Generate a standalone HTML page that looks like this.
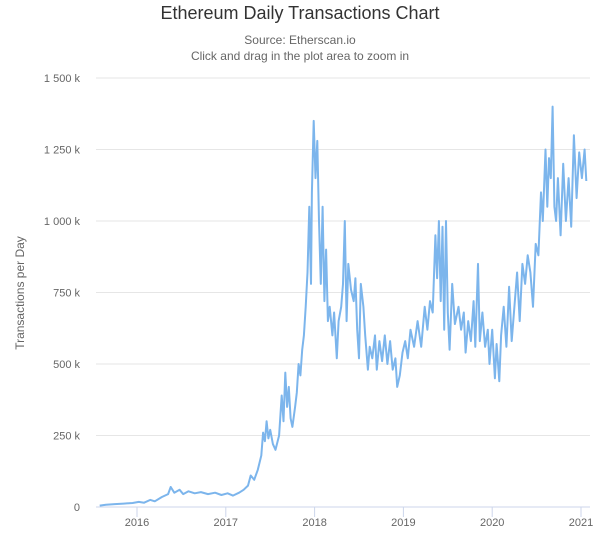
<!DOCTYPE html>
<html><head><meta charset="utf-8"><style>
html,body{margin:0;padding:0;background:#fff;}
svg{display:block;font-family:"Liberation Sans",sans-serif;}
</style></head><body>
<svg id="chart" width="600" height="533">
<text x="300" y="19" text-anchor="middle" font-size="18" fill="#333">Ethereum Daily Transactions Chart</text>
<text x="300" y="44" text-anchor="middle" font-size="12" fill="#666">Source: Etherscan.io</text>
<text x="300" y="60" text-anchor="middle" font-size="12" fill="#666">Click and drag in the plot area to zoom in</text>
<text transform="translate(24,293) rotate(-90)" text-anchor="middle" font-size="12" fill="#666">Transactions per Day</text>
<g id="grid"></g><g id="yticks"></g><g id="xticks"></g><g id="series"></g>
</svg>
<script>
const yTickValues=[0,250,500,750,1000,1250,1500];
const yTickLabels=["0","250 k","500 k","750 k","1 000 k","1 250 k","1 500 k"];
const xTickValues=[2016,2017,2018,2019,2020,2021];
const xTickLabels=["2016","2017","2018","2019","2020","2021"];
const dates=[2015.58,2015.65,2015.75,2015.85,2015.95,2016.02,2016.08,2016.15,2016.2,2016.28,2016.35,2016.38,2016.42,2016.48,2016.52,2016.58,2016.65,2016.72,2016.8,2016.88,2016.95,2017.02,2017.08,2017.15,2017.2,2017.25,2017.28,2017.32,2017.36,2017.4,2017.42,2017.44,2017.46,2017.48,2017.5,2017.53,2017.56,2017.6,2017.63,2017.65,2017.67,2017.69,2017.71,2017.73,2017.75,2017.78,2017.8,2017.82,2017.84,2017.86,2017.88,2017.9,2017.92,2017.94,2017.96,2017.97,2017.99,2018.01,2018.03,2018.05,2018.07,2018.09,2018.11,2018.13,2018.15,2018.17,2018.2,2018.22,2018.25,2018.27,2018.3,2018.32,2018.34,2018.36,2018.38,2018.41,2018.44,2018.46,2018.48,2018.5,2018.52,2018.55,2018.57,2018.6,2018.62,2018.65,2018.68,2018.7,2018.73,2018.76,2018.79,2018.82,2018.85,2018.88,2018.91,2018.93,2018.96,2018.99,2019.02,2019.05,2019.08,2019.12,2019.16,2019.2,2019.24,2019.27,2019.3,2019.33,2019.36,2019.38,2019.4,2019.42,2019.44,2019.46,2019.48,2019.5,2019.52,2019.55,2019.58,2019.62,2019.65,2019.68,2019.7,2019.73,2019.76,2019.79,2019.81,2019.84,2019.86,2019.89,2019.92,2019.95,2019.97,2020.0,2020.03,2020.05,2020.08,2020.1,2020.13,2020.16,2020.19,2020.22,2020.25,2020.28,2020.31,2020.34,2020.37,2020.4,2020.43,2020.46,2020.49,2020.52,2020.55,2020.57,2020.6,2020.62,2020.64,2020.66,2020.68,2020.7,2020.72,2020.74,2020.77,2020.8,2020.83,2020.86,2020.89,2020.92,2020.95,2020.98,2021.01,2021.04,2021.06];
const txValues=[5,8,10,12,14,18,15,25,20,35,45,70,50,60,45,55,48,52,45,50,42,48,40,50,60,75,110,95,130,180,260,230,300,240,270,220,200,250,390,300,470,350,420,310,280,350,400,500,460,550,600,700,820,1050,780,1100,1350,1150,1280,1000,780,1050,720,900,650,700,600,680,520,650,700,780,1000,650,850,760,720,800,620,520,780,700,600,480,560,520,600,480,580,510,600,500,580,480,520,420,460,540,580,520,620,560,650,560,700,620,720,680,950,800,1000,720,980,620,1000,680,550,780,640,700,620,680,540,650,580,720,560,850,580,680,560,620,500,620,450,570,440,600,700,560,770,580,700,820,650,850,780,880,820,700,920,880,1100,1000,1250,1050,1220,1150,1400,1050,1000,1150,950,1200,1000,1150,980,1300,1080,1240,1150,1250,1140];
const NS="http://www.w3.org/2000/svg";
const L=96,R=590,T=78,B=507;
function xScale(t){return 137+(t-2016)*88.8;}
function yScale(v){return B-(v/1500)*(B-T);}
function mk(tag,attrs,parent){const e=document.createElementNS(NS,tag);for(const k in attrs)e.setAttribute(k,attrs[k]);parent.appendChild(e);return e;}
const grid=document.getElementById('grid'),yt=document.getElementById('yticks'),xt=document.getElementById('xticks'),ser=document.getElementById('series');
yTickValues.forEach((v,i)=>{
  const y=yScale(v);
  const g=mk('line',{x1:L,x2:R,y1:y,y2:y,stroke:i===0?'#ccd6eb':'#e6e6e6','stroke-width':1},grid);
  
  
  const t=mk('text',{x:80,y:y+4,'text-anchor':'end','font-size':11,fill:'#666'},yt);
  t.textContent=yTickLabels[i];
  
  
});
xTickValues.forEach((v,i)=>{
  const x=xScale(v);
  const tk=mk('line',{x1:x,x2:x,y1:B,y2:B+10,stroke:'#ccd6eb','stroke-width':1},xt);
  
  
  const t=mk('text',{x:x,y:B+19,'text-anchor':'middle','font-size':11,fill:'#666'},xt);
  t.textContent=xTickLabels[i];
  
  
});
let d='';
dates.forEach((t,i)=>{d+=(i?'L':'M')+xScale(t).toFixed(1)+','+yScale(txValues[i]).toFixed(1);});
const p=mk('path',{d:d,fill:'none',stroke:'#7cb5ec','stroke-width':2,'stroke-linejoin':'round'},ser);


</script>
</body></html>
